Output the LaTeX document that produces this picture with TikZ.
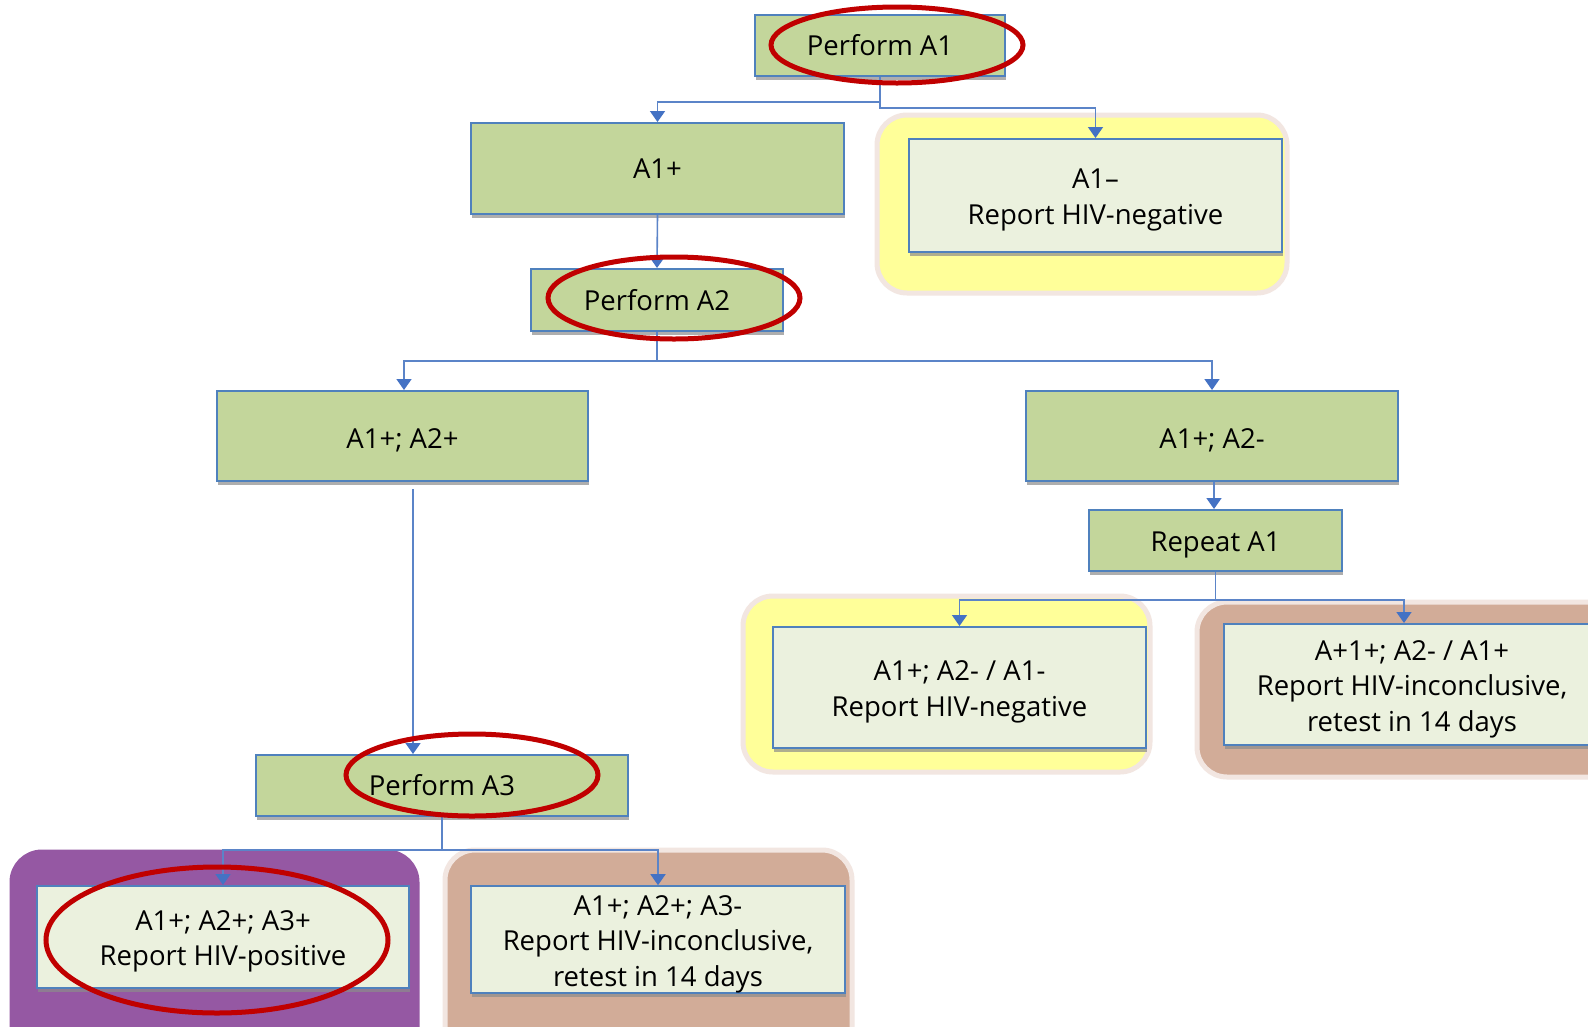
\documentclass[tikz,border=0pt]{standalone}
\usepackage{fontspec}
\setmainfont{Open Sans}
\usetikzlibrary{arrows.meta,shadows}
\definecolor{boxgreen}{HTML}{C3D69B}
\definecolor{boxlight}{HTML}{EBF1DE}
\definecolor{boxblue}{HTML}{4F81BD}
\definecolor{connblue}{HTML}{5B84C8}
\definecolor{tipblue}{HTML}{4472C4}
\definecolor{bgyellow}{HTML}{FFFF99}
\definecolor{bgbrown}{HTML}{D2AC98}
\definecolor{bgpurple}{HTML}{9558A3}
\definecolor{bgrim}{HTML}{F2E6E1}
\definecolor{ringred}{HTML}{C00000}
\newcommand\txtlift{\rule{0pt}{29pt}}
\tikzset{
  basebox/.style={draw=boxblue, line width=2pt, inner sep=0pt, align=center,
    font=\fontsize{27.5}{35.5}\selectfont, text=black,
    drop shadow={shadow xshift=1pt, shadow yshift=-4pt, fill=black!45, opacity=0.7}},
  greenbox/.style={basebox, fill=boxgreen},
  lightbox/.style={basebox, fill=boxlight},
  conn/.style={draw=connblue, line width=1.6pt, -{Triangle[length=11pt,width=15pt,fill=tipblue,color=tipblue]}},
  bgpanel/.style={draw=bgrim, line width=5pt, rounded corners=30pt},
  ring/.style={draw=ringred, line width=5pt}
}
\begin{document}
\begin{tikzpicture}[x=1pt,y=-1pt]
\useasboundingbox (0,0) rectangle (1588,1026);
\clip (0,0) rectangle (1588,1026);
\fill[white] (0,0) rectangle (1588,1026);
% background panels
\path[bgpanel, fill=bgyellow] (877,115) rectangle (1287,293);
\path[bgpanel, fill=bgyellow] (743,596) rectangle (1150,772);
\path[bgpanel, fill=bgbrown] (1197,602) rectangle (1640,777);
\path[bgpanel, fill=bgpurple, draw=bgpurple] (12,852) rectangle (417,1060);
\path[bgpanel, fill=bgbrown] (445,850) rectangle (852,1060);
% boxes
\node[greenbox, minimum width=250pt, minimum height=61pt] (pa1) at (880,45.5) {Perform A1};
\node[greenbox, minimum width=373pt, minimum height=91pt] (a1p) at (657.5,168.5) {A1+};
\node[lightbox, minimum width=373pt, minimum height=113pt] (a1n) at (1095.5,195.5) {\txtlift A1–\\Report HIV-negative};
\node[greenbox, minimum width=252pt, minimum height=62pt] (pa2) at (657,300) {Perform A2};
\node[greenbox, minimum width=371pt, minimum height=90pt] (a12p) at (402.5,436) {\txtlift A1+; A2+};
\node[greenbox, minimum width=372pt, minimum height=90pt] (a12n) at (1212,436) {\txtlift A1+; A2-};
\node[greenbox, minimum width=253pt, minimum height=61pt] (rep) at (1215.5,540.5) {\txtlift Repeat A1};
\node[lightbox, minimum width=373pt, minimum height=121pt] (neg2) at (959.5,687.5) {\txtlift A1+; A2- / A1-\\Report HIV-negative};
\node[lightbox, minimum width=376pt, minimum height=121pt] (inc2) at (1412,684.5) {\txtlift A+1+; A2- / A1+\\Report HIV-inconclusive,\\retest in 14 days};
\node[greenbox, minimum width=372pt, minimum height=61pt] (pa3) at (442,785.5) {Perform A3};
\node[lightbox, minimum width=372pt, minimum height=102pt] (pos) at (223,937) {\txtlift A1+; A2+; A3+\\Report HIV-positive};
\node[lightbox, minimum width=374pt, minimum height=105pt] (inc1) at (658,939.5) {\txtlift A1+; A2+; A3-\\Report HIV-inconclusive,\\retest in 14 days};
% connectors
\draw[conn] (pa1.south) -- ++(0,25) -| (a1p.north);
\draw[conn] (pa1.south) -- ++(0,31) -| (a1n.north);
\draw[conn] (a1p.south) -- (pa2.north);
\draw[conn] (pa2.south) -- ++(0,29) -| ([xshift=1.5pt]a12p.north);
\draw[conn] (pa2.south) -- ++(0,29) -| (a12n.north);
\coordinate (s3) at (413,489);
\draw[conn] (s3) -- (s3 |- pa3.north);
\draw[conn] ([xshift=2pt]a12n.south) -- ([xshift=2pt]a12n.south |- rep.north);
\draw[conn] (rep.south) -- ++(0,28) -| (neg2.north);
\draw[conn] (rep.south) -- ++(0,28) -| ([xshift=-8pt]inc2.north);
\draw[conn] (pa3.south) -- ++(0,33) -| (pos.north);
\draw[conn] (pa3.south) -- ++(0,33) -| (inc1.north);
% red rings
\draw[ring] (897,45) ellipse [x radius=126pt, y radius=38pt];
\draw[ring] (674,298) ellipse [x radius=126pt, y radius=41pt];
\draw[ring] (472,775) ellipse [x radius=126pt, y radius=41pt];
\draw[ring] (217,940) ellipse [x radius=171pt, y radius=73pt];
\end{tikzpicture}
\end{document}
